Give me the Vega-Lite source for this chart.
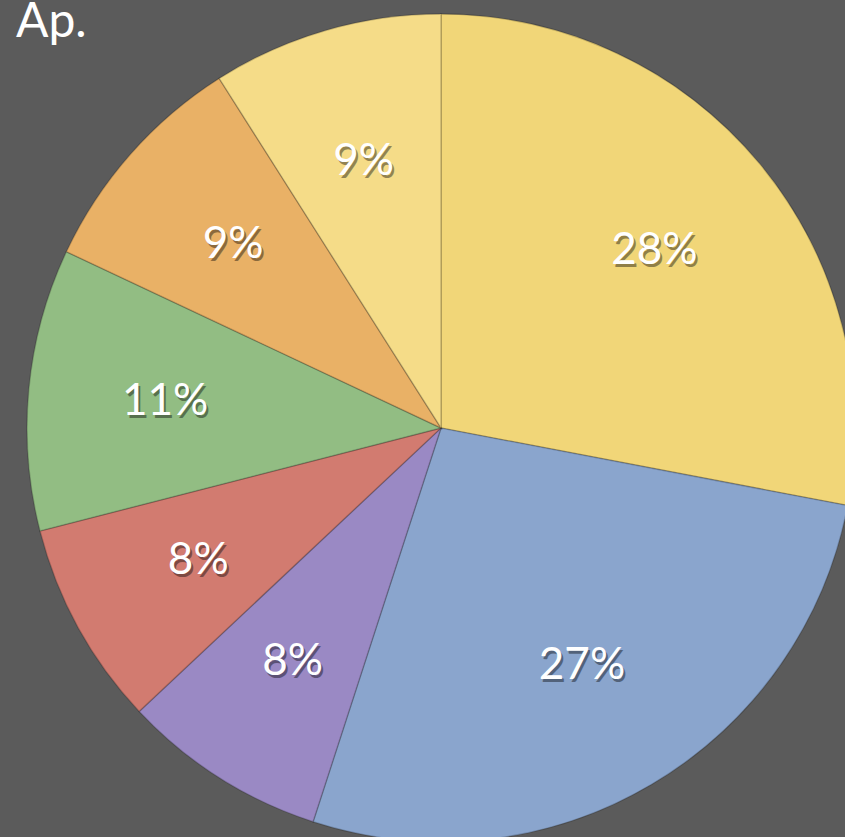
{
  "$schema": "https://vega.github.io/schema/vega-lite/v6.json",
  "width": 800,
  "height": 818,
  "autosize": {"type": "none"},
  "padding": {"left": 41, "top": 19, "right": 4, "bottom": 0},
  "background": "#5b5b5b",
  "title": {"text": "Ap.", "anchor": "start", "dx": -8, "offset": -36, "fontSize": 48, "color": "#ffffff", "font": "Lato", "fontWeight": "normal", "baseline": "top"},
  "view": {"stroke": null},
  "data": {"values": [
    {"cat": "A", "value": 28, "order": 1, "label": "28%"},
    {"cat": "B", "value": 27, "order": 2, "label": "27%"},
    {"cat": "C", "value": 8, "order": 3, "label": "8%"},
    {"cat": "D", "value": 8, "order": 4, "label": "8%"},
    {"cat": "E", "value": 11, "order": 5, "label": "11%"},
    {"cat": "F", "value": 9, "order": 6, "label": "9%"},
    {"cat": "G", "value": 9, "order": 7, "label": "9%"}
  ]},
  "encoding": {
    "theta": {"field": "value", "type": "quantitative", "stack": true},
    "order": {"field": "order", "type": "quantitative"},
    "color": {"field": "cat", "type": "nominal", "legend": null,
      "scale": {"domain": ["A","B","C","D","E","F","G"], "range": ["#f1d678","#8aa5cd","#9a89c4","#d27b70","#92bd83","#e9b166","#f5dc88"]}}
  },
  "layer": [
    {"mark": {"type": "arc", "outerRadius": 414, "stroke": "#00000030", "strokeWidth": 1.5}},
    {"mark": {"type": "text", "radius": 277, "font": "Lato", "fontSize": 44, "opacity": 0.4, "dx": 2, "dy": 3, "baseline": "middle"},
     "encoding": {"text": {"field": "label"}, "color": {"value": "#000000"}}},
    {"mark": {"type": "text", "radius": 277, "font": "Lato", "fontSize": 44, "baseline": "middle"},
     "encoding": {"text": {"field": "label"}, "color": {"value": "#ffffff"}}}
  ]
}
